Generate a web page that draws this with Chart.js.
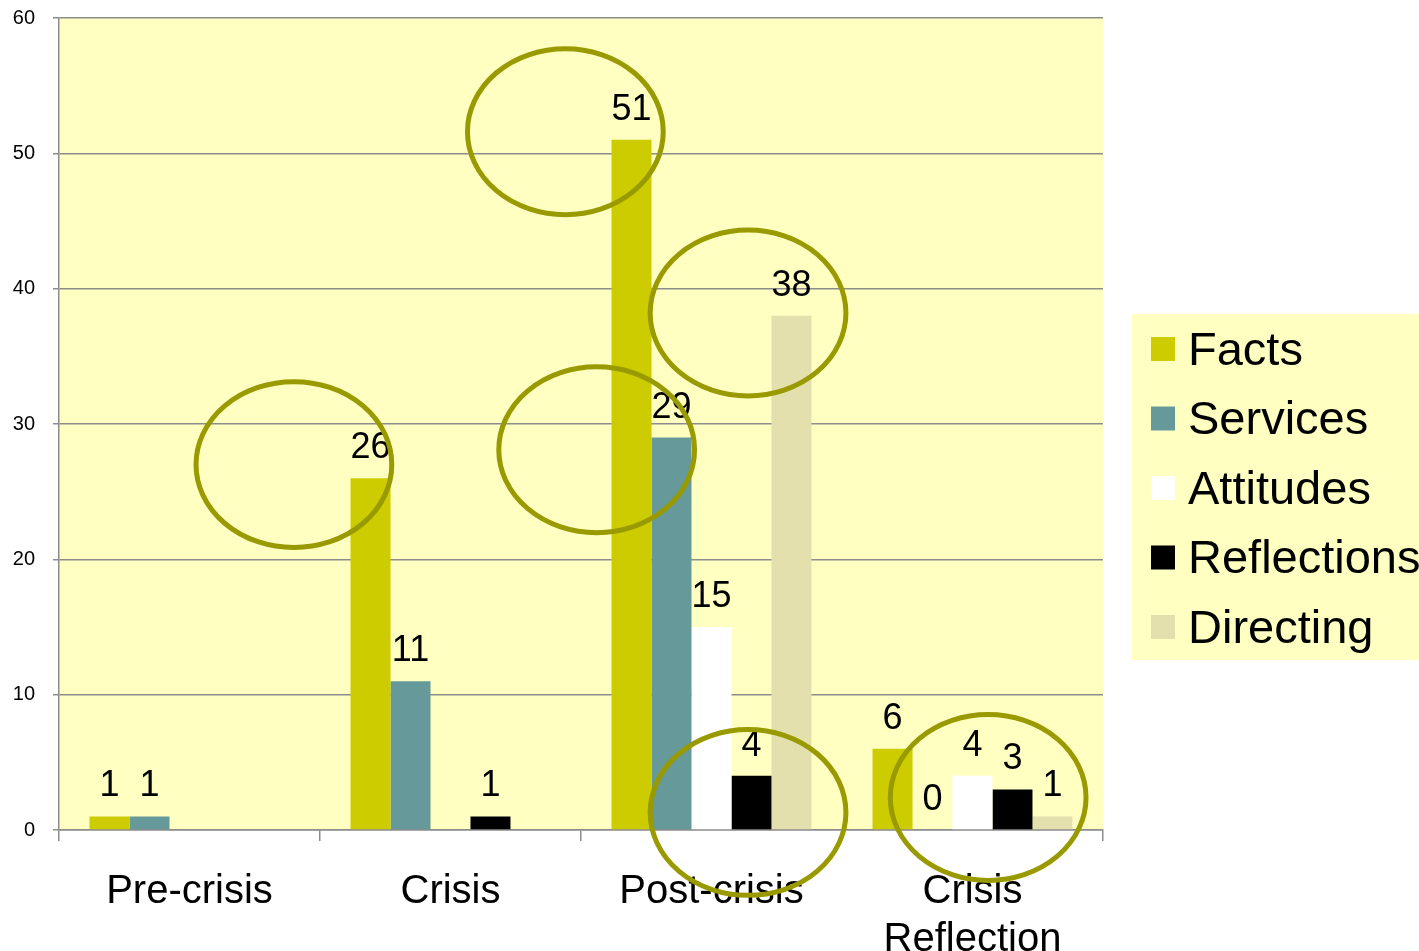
<!DOCTYPE html>
<html>
<head>
<meta charset="utf-8">
<title>Messages by phase</title>
<script src="https://cdn.jsdelivr.net/npm/chart.js@4.4.0/dist/chart.umd.min.js"></script>
<style>
  html, body { margin: 0; padding: 0; background: #ffffff; }
  canvas { display: block; }
</style>
</head>
<body>
<canvas id="chart" width="1419" height="951"></canvas>
<script>
// Data
const categories = ['Pre-crisis', 'Crisis', 'Post-crisis', ['Crisis', 'Reflection']];
const seriesNames = ['Facts', 'Services', 'Attitudes', 'Reflections', 'Directing'];
const facts = [1, 26, 51, 6];
const services = [1, 11, 29, 0];
const attitudes = [null, null, 15, 4];
const reflections = [null, 1, 4, 3];
const directing = [null, null, 38, 1];
const yMin = 0;
const yMax = 60;
const yStep = 10;

// Circled groups, in category index / value units
const highlights = [
    { x: 0.40, y: 27.0 },
    { x: 1.44, y: 51.6 },
    { x: 1.56, y: 28.1 },
    { x: 2.14, y: 38.2 },
    { x: 2.14, y: 1.3 },
    { x: 3.06, y: 2.4 }
];

const colors = ['#cccc00', '#669999', '#ffffff', '#000000', '#e3e0ae'];
const plotBg = '#ffffc2';
const gridColor = '#8c8c8c';
const ringColor = '#999900';

Chart.defaults.font.family = "'Liberation Sans', Arial, sans-serif";
Chart.defaults.color = '#000000';

// Fill plot area
const backgroundPlugin = {
    id: 'backgrounds',
    beforeDraw(chart) {
        const { ctx, chartArea } = chart;
        ctx.save();
        ctx.fillStyle = plotBg;
        ctx.fillRect(chartArea.left, chartArea.top, chartArea.right - chartArea.left, chartArea.bottom - chartArea.top);
        ctx.restore();
    }
};

// Value labels above each bar
const valueLabels = {
    id: 'valueLabels',
    afterDatasetsDraw(chart) {
        const { ctx } = chart;
        ctx.save();
        ctx.font = "36px 'Liberation Sans', Arial, sans-serif";
        ctx.fillStyle = '#000000';
        ctx.textAlign = 'center';
        ctx.textBaseline = 'alphabetic';
        chart.data.datasets.forEach((ds, i) => {
            const meta = chart.getDatasetMeta(i);
            meta.data.forEach((bar, j) => {
                const v = ds.data[j];
                if (v === null || v === undefined) return;
                ctx.fillText(String(v), bar.x, bar.y - 20);
            });
        });
        ctx.restore();
    }
};

// Legend on the right, drawn from the datasets
const sideLegend = {
    id: 'sideLegend',
    afterDraw(chart) {
        const { ctx, chartArea } = chart;
        const left = chartArea.right + 29;
        const top = 314;
        ctx.save();
        ctx.fillStyle = plotBg;
        ctx.fillRect(left, top, chart.width - left, 346);
        ctx.font = "47px 'Liberation Sans', Arial, sans-serif";
        ctx.textAlign = 'left';
        ctx.textBaseline = 'middle';
        chart.data.datasets.forEach((ds, i) => {
            const cy = 349 + i * 69.5;
            ctx.fillStyle = ds.backgroundColor;
            ctx.fillRect(left + 19, cy - 12, 24, 24);
            ctx.fillStyle = '#000000';
            ctx.fillText(ds.label, left + 56, cy + 3);
        });
        ctx.restore();
    }
};

// Olive rings over the chart
const rings = {
    id: 'rings',
    afterDraw(chart) {
        const { ctx } = chart;
        const xs = chart.scales.x;
        const ys = chart.scales.y;
        const rx = xs.getPixelForValue(0.375) - xs.getPixelForValue(0);
        const ry = ys.getPixelForValue(0) - ys.getPixelForValue(6.13);
        ctx.save();
        ctx.strokeStyle = ringColor;
        ctx.lineWidth = 5;
        highlights.forEach(h => {
            ctx.beginPath();
            ctx.ellipse(xs.getPixelForValue(h.x), ys.getPixelForValue(h.y), rx, ry, 0, 0, Math.PI * 2);
            ctx.stroke();
        });
        ctx.restore();
    }
};

const seriesData = [facts, services, attitudes, reflections, directing];

const ctx = document.getElementById('chart').getContext('2d');
new Chart(ctx, {
    type: 'bar',
    data: {
        labels: categories,
        datasets: seriesNames.map((name, i) => ({
            label: name,
            data: seriesData[i],
            backgroundColor: colors[i],
            borderWidth: 0,
            categoryPercentage: 0.766,
            barPercentage: 1.0
        }))
    },
    options: {
        responsive: false,
        animation: false,
        layout: {
            padding: { left: 0, right: 316, top: 18, bottom: 0 }
        },
        plugins: {
            legend: { display: false },
            tooltip: { enabled: false }
        },
        scales: {
            x: {
                grid: {
                    drawOnChartArea: false,
                    drawTicks: true,
                    tickLength: 11,
                    color: gridColor,
                    lineWidth: 1.5
                },
                border: { display: true, color: gridColor, width: 1.5 },
                ticks: {
                    font: { size: 40 },
                    color: '#000000',
                    padding: 27,
                    maxRotation: 0,
                    autoSkip: false
                },
                afterFit(scale) {
                    scale.height = 121;
                    scale.paddingLeft = 0;
                    scale.paddingRight = 0;
                }
            },
            y: {
                min: yMin,
                max: yMax,
                ticks: {
                    stepSize: yStep,
                    font: { size: 20 },
                    color: '#000000',
                    padding: 18
                },
                grid: {
                    color: gridColor,
                    lineWidth: 1.5,
                    tickLength: 6
                },
                border: { display: true, color: gridColor, width: 1.5 },
                afterFit(scale) {
                    scale.width = 59;
                    scale.paddingTop = 0;
                    scale.paddingBottom = 0;
                }
            }
        }
    },
    plugins: [backgroundPlugin, valueLabels, sideLegend, rings]
});
</script>
</body>
</html>
